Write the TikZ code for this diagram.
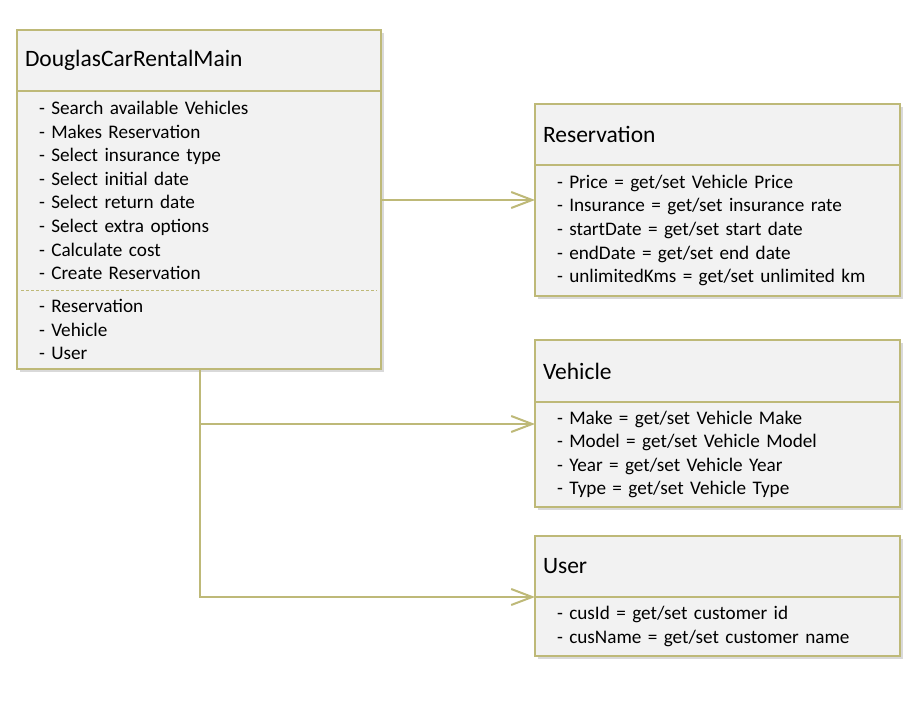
\documentclass[tikz,border=0pt]{standalone}
\usepackage{fontspec}
\setmainfont{Carlito}
\usetikzlibrary{positioning,shadows,arrows.meta}

\definecolor{boxline}{RGB}{190,185,120}
\definecolor{boxfill}{RGB}{242,242,242}

\tikzset{
  boxshadow/.style={drop shadow={shadow xshift=3pt,shadow yshift=-3pt,opacity=0.3,fill=gray}},
  titlebox/.style={draw=boxline,line width=2.5pt,fill=boxfill,boxshadow,outer sep=0pt,
    anchor=north west,align=left,inner xsep=8pt,inner ysep=0pt,
    font=\fontsize{23.5}{28}\selectfont},
  listbox/.style={fill=boxfill,boxshadow,outer sep=0pt,align=left,inner xsep=22pt,inner ysep=0pt,
    font=\fontsize{19.2}{23.6}\selectfont},
  link/.style={draw=boxline,line width=2pt,-{Straight Barb[length=21pt,width=16pt,line width=2pt]}}
}

\begin{document}
\begin{tikzpicture}[x=1pt,y=-1pt]
  \useasboundingbox (0,0) rectangle (921,712);

  % main class
  \node[titlebox,text width=348pt,minimum height=61pt] (mainT) at (17,30) {DouglasCarRentalMain};
  \node[listbox,text width=320pt,minimum height=199pt,below=0pt of mainT] (mainO)
    {- Search available Vehicles\\- Makes Reservation\\- Select insurance type\\- Select initial date\\- Select return date\\- Select extra options\\- Calculate cost\\- Create Reservation};
  \node[listbox,text width=320pt,minimum height=79pt,below=0pt of mainO] (mainA)
    {- Reservation\\- Vehicle\\- User};
  \draw[boxline,line width=2.5pt] (mainT.north west) rectangle (mainA.south east);
  \draw[boxline,line width=2.5pt] (mainT.south west) -- (mainT.south east);
  \draw[boxline,line width=1pt,dashed,dash pattern=on 3pt off 2pt] ([xshift=4pt]mainO.south west) -- ([xshift=-4pt]mainO.south east);

  % Reservation
  \node[titlebox,text width=349pt,minimum height=61pt] (resT) at (535,104) {Reservation};
  \node[listbox,draw=boxline,line width=2.5pt,text width=321pt,minimum height=131pt,below=0pt of resT] (resB)
    {- Price = get/set Vehicle Price\\- Insurance = get/set insurance rate\\- startDate = get/set start date\\- endDate = get/set end date\\- unlimitedKms = get/set unlimited km};

  % Vehicle
  \node[titlebox,text width=349pt,minimum height=62pt] (vehT) at (535,340) {Vehicle};
  \node[listbox,draw=boxline,line width=2.5pt,text width=321pt,minimum height=105pt,below=0pt of vehT] (vehB)
    {- Make = get/set Vehicle Make\\- Model = get/set Vehicle Model\\- Year = get/set Vehicle Year\\- Type = get/set Vehicle Type};

  % User
  \node[titlebox,text width=349pt,minimum height=61pt] (userT) at (535,536) {User};
  \node[listbox,draw=boxline,line width=2.5pt,text width=321pt,minimum height=59pt,below=0pt of userT] (userB)
    {- cusId = get/set customer id\\- cusName = get/set customer name};

  % connectors
  \coordinate (split) at (200,424);
  \draw[link] (mainT.east |- 0,200) -- (resB.west |- 0,200);
  \draw[link] (mainA.south -| split) -- (split) -- (vehB.west |- split);
  \draw[link] (split) |- (userT.south west);
\end{tikzpicture}
\end{document}
